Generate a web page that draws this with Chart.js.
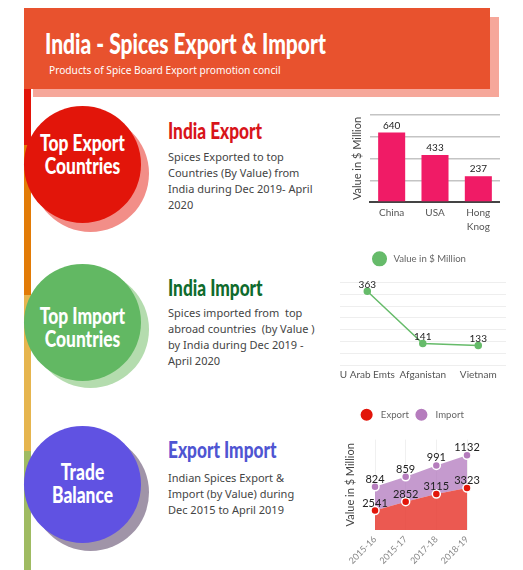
<!DOCTYPE html>
<html>
<head>
<meta charset="utf-8">
<script src="https://cdn.jsdelivr.net/npm/chart.js@4"></script>
<style>
html, body { margin: 0; padding: 0; background: #fff; overflow: hidden; }
body { width: 523px; height: 570px; position: relative; font-family: "Noto Sans", sans-serif; }
div, canvas { position: absolute; }
.head { font-family: Lato, sans-serif; font-weight: 900; white-space: nowrap; transform-origin: left center; transform: scaleX(0.75); }
.circle { border-radius: 50%; width: 117px; height: 117px; left: 24px; }
.shadow { border-radius: 50%; width: 117px; height: 117px; left: 32px; }
.ctext { left: 24px; width: 117px; text-align: center; color: #fff; font-size: 22px; line-height: 23px; transform-origin: center center; transform: scaleX(0.79); }
.h2 { left: 168px; font-size: 23px; line-height: 28px; }
.body { left: 168px; font-size: 11px; line-height: 16px; color: #444; white-space: nowrap; }
</style>
</head>
<body>
<div style="left:33px;top:17px;width:466px;height:80px;background:#f6a79a"></div>
<div style="left:24px;top:8px;width:466px;height:81px;background:#e8522e"></div>
<div class="head" style="left:45px;top:26px;font-size:28px;line-height:34px;color:#fff">India - Spices Export &amp; Import</div>
<div style="left:49px;top:63px;font-size:10.2px;line-height:14px;color:#fff;white-space:nowrap">Products of Spice Board Export promotion concil</div>

<div style="left:24px;top:89px;width:7px;height:56px;background:#e2150a"></div>
<div style="left:24px;top:145px;width:7px;height:150px;background:#e27b06"></div>
<div style="left:24px;top:295px;width:7px;height:156px;background:#e6b54e"></div>
<div style="left:24px;top:451px;width:7px;height:119px;background:#9fbb62"></div>

<div class="shadow" style="top:115px;background:#f28e88"></div>
<div class="circle" style="top:106px;background:#e2150a"></div>
<div class="ctext head" style="top:131px">Top Export<br>Countries</div>
<div class="h2 head" style="top:116px;color:#d8141a">India Export</div>
<div class="body" style="top:149px">Spices Exported to top<br>Countries (By Value) from<br>India during Dec 2019- April<br>2020</div>

<div class="shadow" style="top:271px;background:#b4dcae"></div>
<div class="circle" style="top:264px;background:#62b863"></div>
<div class="ctext head" style="top:304px">Top Import<br>Countries</div>
<div class="h2 head" style="top:273px;color:#0f6b2d">India Import</div>
<div class="body" style="top:305px">Spices imported from&nbsp; top<br>abroad countries&nbsp; (by Value )<br>by India during Dec 2019 -<br>April 2020</div>

<div class="shadow" style="top:434px;background:#a094a8"></div>
<div class="circle" style="top:426px;background:#6052e2"></div>
<div class="ctext head" style="top:460px">Trade<br>Balance</div>
<div class="h2 head" style="top:435px;color:#4f55d2">Export Import</div>
<div class="body" style="top:470px">Indian Spices Export &amp;<br>Import (by Value) during<br>Dec 2015 to April 2019</div>

<canvas id="exportChart" width="151" height="135" style="left:349px;top:110px"></canvas>
<canvas id="importChart" width="171" height="142" style="left:335px;top:246px"></canvas>
<canvas id="tradeChart" width="154" height="166" style="left:336px;top:402px"></canvas>

<script>
const exportCountries = ["China", "USA", ["Hong", "Knog"]];
const exportValues = [640, 433, 237];
const importCountries = ["U Arab Emts", "Afganistan", "Vietnam"];
const importValues = [363, 141, 133];
const years = ["2015-16", "2015-17", "2017-18", "2018-19"];
const tradeExport = [2541, 2852, 3115, 3323];
const tradeImport = [824, 859, 991, 1132];
const seriesName = "Value in $ Million";

Chart.defaults.font.family = "Lato, sans-serif";
Chart.defaults.font.size = 10;
Chart.defaults.animation = false;
Chart.defaults.devicePixelRatio = 1;

// values above the marks, no datalabels plugin available
const valueLabels = {
    id: "valueLabels",
    afterDatasetsDraw(chart, args, opts) {
        const ctx = chart.ctx;
        ctx.save();
        ctx.fillStyle = "#222";
        ctx.font = opts.size + "px Lato, sans-serif";
        ctx.textAlign = "center";
        ctx.textBaseline = "bottom";
        chart.data.datasets.forEach((ds, i) => {
            chart.getDatasetMeta(i).data.forEach((el, j) => {
                ctx.fillText(ds.data[j], el.x, el.y - opts.gap);
            });
        });
        ctx.restore();
    }
};

function legendOpts() {
    return {
        display: true,
        position: "top",
        labels: {
            usePointStyle: true, boxWidth: 9, color: "#666", padding: 8, font: { size: 9.6 },
            // wider gap between dot and text
            generateLabels(chart) {
                return Chart.defaults.plugins.legend.labels.generateLabels(chart).map(item => {
                    item.text = "\u00a0\u00a0" + item.text;
                    return item;
                });
            }
        }
    };
}

// empty axis, only keeps room free around the plot
function spacerAxis(position, size) {
    const horizontal = position === "top";
    return {
        position: position,
        afterFit(scale) {
            if (horizontal) scale.height = size;
            else scale.width = size;
        },
        grid: { display: false },
        border: { display: false },
        ticks: { display: false }
    };
}

new Chart(document.getElementById("exportChart"), {
    type: "bar",
    data: {
        labels: exportCountries,
        datasets: [{ label: seriesName, data: exportValues, backgroundColor: "#f01b66", barPercentage: 0.78, categoryPercentage: 0.8 }]
    },
    plugins: [valueLabels],
    options: {
        responsive: false,
        layout: { autoPadding: false, padding: { top: 5 } },
        plugins: { legend: { display: false }, tooltip: { enabled: false }, valueLabels: { size: 10, gap: 2 } },
        scales: {
            x: {
                afterFit(scale) { scale.height = 43; },
                grid: { display: false, drawTicks: false },
                border: { color: "#444", width: 2 },
                ticks: { color: "#555", font: { size: 10, lineHeight: 1.4 }, maxRotation: 0, padding: 4 }
            },
            y: {
                min: 0, max: 800,
                afterFit(scale) { scale.width = 21; },
                title: { display: true, text: seriesName, color: "#444", font: { size: 11 }, padding: 2 },
                grid: { color: "#c4c4c4", lineWidth: 1.5, drawTicks: false },
                border: { display: false },
                ticks: { display: false, stepSize: 200 }
            }
        }
    }
});

new Chart(document.getElementById("importChart"), {
    type: "line",
    data: {
        labels: importCountries,
        datasets: [{
            label: seriesName, data: importValues,
            borderColor: "#66bb6a", borderWidth: 1.5, tension: 0,
            pointBackgroundColor: "#66bb6a", pointBorderColor: "#66bb6a", pointRadius: 3,
            backgroundColor: "#66bb6a"
        }]
    },
    plugins: [valueLabels],
    options: {
        responsive: false,
        layout: { autoPadding: false },
        plugins: { legend: legendOpts(), tooltip: { enabled: false }, valueLabels: { size: 10, gap: 2 } },
        scales: {
            x: {
                offset: true,
                afterFit(scale) { scale.height = 23; },
                grid: { display: false, drawTicks: false },
                border: { display: false },
                ticks: { color: "#555", font: { size: 10 }, maxRotation: 0, autoSkip: false, padding: 4 }
            },
            xSpace: spacerAxis("top", 9),
            y: {
                min: 50, max: 400,
                afterFit(scale) { scale.width = 0; },
                grid: { color: "#eeeeee", drawTicks: false },
                border: { display: false },
                ticks: { display: false, stepSize: 50 }
            }
        }
    }
});

new Chart(document.getElementById("tradeChart"), {
    type: "line",
    data: {
        labels: years,
        datasets: [
            {
                label: "Export", data: tradeExport, fill: "origin",
                borderWidth: 0, backgroundColor: "rgba(232,60,50,0.85)",
                pointBackgroundColor: "#e2150a", pointBorderColor: "#fff", pointBorderWidth: 1.5, pointRadius: 4
            },
            {
                label: "Import", data: tradeImport, fill: "-1",
                borderWidth: 0, backgroundColor: "rgba(178,120,190,0.75)",
                pointBackgroundColor: "#b57cbd", pointBorderColor: "#fff", pointBorderWidth: 1.5, pointRadius: 4
            }
        ]
    },
    plugins: [valueLabels],
    options: {
        responsive: false,
        layout: { autoPadding: false },
        plugins: { legend: legendOpts(), tooltip: { enabled: false }, valueLabels: { size: 11, gap: 2 } },
        scales: {
            x: {
                afterFit(scale) { scale.height = 38; },
                offset: false,
                grid: { color: "#f0f0f0", drawTicks: false },
                border: { display: false },
                ticks: { color: "#888", font: { size: 9 }, minRotation: 45, maxRotation: 45, autoSkip: false, padding: 4 }
            },
            xSpace: spacerAxis("top", 10),
            y: {
                stacked: true,
                min: 1870, max: 5000,
                afterFit(scale) { scale.width = 39; },
                title: { display: true, text: seriesName, color: "#444", font: { size: 11 }, padding: { top: 8, bottom: 2 } },
                grid: { display: false },
                border: { display: false },
                ticks: { display: false }
            },
            ySpace: spacerAxis("right", 23)
        }
    }
});
</script>
</body>
</html>
